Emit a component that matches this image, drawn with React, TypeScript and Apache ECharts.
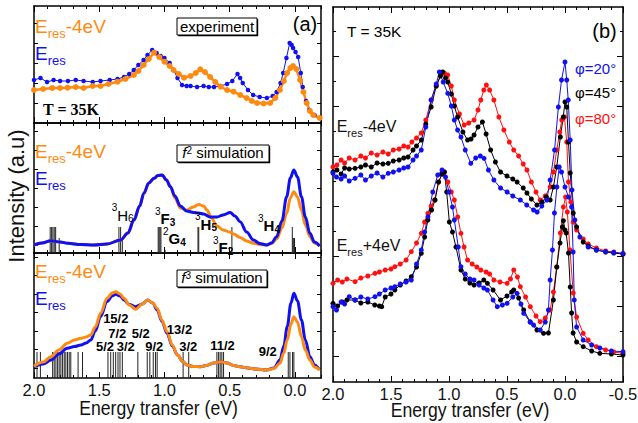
import React, { useEffect, useRef } from 'react';
import * as echarts from 'echarts';

// ---------------- data (energy transfer in eV, intensity in arbitrary units) ----------------
const expOrange = [[2.0,33],[1.93,34],[1.86,35],[1.8,35],[1.743,35.3],[1.68,36],[1.62,35],[1.55,37],[1.49,37],[1.43,39],[1.36,41.3],[1.3,44],[1.235,48],[1.2,52],[1.16,58],[1.12,64],[1.08,70.3],[1.04,66],[1.0,61.3],[0.96,57],[0.93,53],[0.89,49],[0.85,45.3],[0.8,47],[0.76,50],[0.725,53.7],[0.69,51],[0.65,46],[0.61,41],[0.57,36.3],[0.52,33],[0.47,31.3],[0.42,28],[0.37,25],[0.33,22],[0.29,20],[0.24,19.5],[0.19,20],[0.15,25],[0.115,33],[0.085,42],[0.06,50],[0.035,55],[0.015,57],[-0.01,54],[-0.04,43],[-0.065,31],[-0.09,20],[-0.115,12],[-0.14,8],[-0.19,5]];
const expBlue = [[2.0,43],[1.95,45],[1.9,41],[1.85,43],[1.8,42],[1.74,42],[1.68,43],[1.62,42],[1.55,41],[1.49,42],[1.42,43],[1.36,44],[1.31,46],[1.27,49],[1.235,53],[1.2,58],[1.16,63],[1.13,68],[1.094,73],[1.06,70],[1.03,67],[1.0,65],[0.96,60],[0.93,53],[0.9,45],[0.865,38],[0.83,37],[0.8,37],[0.75,36],[0.7,37],[0.66,36],[0.62,36],[0.57,37],[0.52,39],[0.48,42],[0.44,49],[0.42,45],[0.4,40],[0.36,33],[0.32,28],[0.27,26],[0.215,25],[0.17,27],[0.14,31],[0.11,40],[0.09,50],[0.065,65],[0.04,80],[0.025,78],[0.014,75],[-0.005,71],[-0.025,66],[-0.045,50],[-0.06,36],[-0.085,22],[-0.11,13],[-0.15,8],[-0.19,5]];

const f2Blue = [[2.0,8],[1.94,10],[1.87,12.3],[1.8,11],[1.74,9.7],[1.64,8.5],[1.54,8],[1.44,9],[1.336,13],[1.28,20],[1.234,33],[1.19,47],[1.158,59.7],[1.12,70],[1.08,74.7],[1.05,77.5],[1.018,78],[0.985,73],[0.954,66.3],[0.92,57],[0.878,47],[0.83,42],[0.776,40.5],[0.74,40],[0.7,39],[0.65,36],[0.598,36],[0.55,38],[0.496,40.5],[0.46,37],[0.42,31.3],[0.37,21],[0.318,13],[0.27,9.5],[0.216,8],[0.18,10],[0.14,16.3],[0.1,32],[0.063,56.3],[0.035,75],[0.008,83],[-0.02,76],[-0.05,56.3],[-0.08,36],[-0.115,19.7],[-0.15,11],[-0.19,7]];
const f2Orange = [[2.0,8],[1.94,10],[1.87,12.3],[1.8,11],[1.74,9.7],[1.64,8.5],[1.54,8],[1.44,9],[1.336,13],[1.28,20],[1.234,33],[1.19,47],[1.158,59.7],[1.12,70],[1.08,74.7],[1.05,77.5],[1.018,78],[0.985,73],[0.954,66.3],[0.92,55],[0.878,45],[0.827,43],[0.78,46],[0.738,48.5],[0.7,47],[0.674,43],[0.64,35],[0.598,27],[0.55,23],[0.5,21],[0.47,19],[0.42,15.5],[0.37,12],[0.318,9.7],[0.27,8.5],[0.216,8],[0.18,9.5],[0.14,14],[0.1,25],[0.063,39.7],[0.035,55],[0.008,61.3],[-0.02,56],[-0.05,43],[-0.08,28],[-0.115,16.3],[-0.15,10],[-0.19,7]];
const f2Sticks = [[1.876,26],[1.865,26],[1.855,26],[1.845,26],[1.834,26],[1.807,15],[1.349,26],[1.336,26],[1.323,15],[1.048,26],[1.041,26],[1.034,26],[1.027,26],[0.995,3],[0.743,26],[0.737,26],[0.483,26],[0.02,26],[0.014,15],[0.008,15],[0.003,15]];

const f3Blue = [[2.0,11.3],[1.93,14],[1.87,18],[1.81,24],[1.745,29.7],[1.69,31.5],[1.64,33],[1.6,35],[1.565,38],[1.53,47],[1.49,61.3],[1.44,76.3],[1.4,82],[1.374,83.7],[1.34,82],[1.31,78],[1.27,73.5],[1.22,71.3],[1.17,74],[1.13,78],[1.09,75],[1.056,68],[1.02,57],[0.98,44.7],[0.94,32],[0.9,23],[0.86,16.5],[0.827,13],[0.78,11.5],[0.725,11.3],[0.68,12.5],[0.62,15],[0.57,16.3],[0.52,15],[0.47,12.5],[0.42,11.3],[0.36,10],[0.3,9],[0.216,8],[0.16,10],[0.115,18],[0.085,32],[0.059,51.3],[0.03,75],[0.008,84.7],[-0.02,77],[-0.05,58],[-0.08,38],[-0.115,21.3],[-0.15,13],[-0.19,8]];
const f3Orange = [[2.0,11.7],[1.93,16],[1.87,21.3],[1.81,28],[1.745,34.7],[1.69,38],[1.64,39.7],[1.6,41],[1.565,43],[1.53,51],[1.49,64.7],[1.44,79.7],[1.4,85],[1.374,86.3],[1.34,84],[1.31,79.7],[1.27,73],[1.22,68.7],[1.17,74],[1.13,78],[1.09,75],[1.056,69.7],[1.02,58],[0.98,46.3],[0.94,33],[0.9,23],[0.86,16.5],[0.827,13],[0.78,11.5],[0.725,11.3],[0.68,12.5],[0.62,15],[0.57,16.3],[0.52,15],[0.47,12.5],[0.42,11.3],[0.36,10],[0.3,9],[0.216,8],[0.16,9.5],[0.115,14.7],[0.085,25],[0.059,38],[0.03,54],[0.008,61.3],[-0.02,56],[-0.05,41.3],[-0.08,28],[-0.115,18],[-0.15,11],[-0.19,8]];
const f3Sticks = [[1.977,26],[1.951,26],[1.857,26],[1.845,26],[1.832,26],[1.819,26],[1.807,26],[1.794,26],[1.781,26],[1.768,26],[1.756,26],[1.743,26],[1.73,26],[1.718,26],[1.662,26],[1.628,26],[1.433,26],[1.412,26],[1.392,26],[1.374,26],[1.356,26],[1.341,26],[1.323,26],[1.204,26],[1.132,26],[1.112,26],[1.086,26],[1.069,26],[1.056,26],[0.857,26],[0.814,26],[0.598,26],[0.585,26],[0.573,26],[0.56,26],[0.547,26],[0.051,26],[0.038,26],[0.018,26],[0.008,26]];

const upRed = [[2.0,215],[1.966,217],[1.93,222],[1.9,219],[1.86,224],[1.81,222],[1.76,226],[1.72,224],[1.67,229],[1.62,227],[1.57,230],[1.524,228],[1.48,232],[1.43,233],[1.39,236],[1.353,235],[1.32,240],[1.28,244],[1.239,249],[1.2,262],[1.154,282],[1.11,296],[1.068,307],[1.04,309],[1.011,307],[0.98,296],[0.954,282],[0.91,268],[0.869,257],[0.83,259],[0.784,262],[0.75,272],[0.726,282],[0.7,292],[0.678,297],[0.65,292],[0.613,282],[0.57,265],[0.527,252],[0.48,240],[0.442,232],[0.4,226],[0.36,218],[0.328,212],[0.29,200],[0.25,190],[0.214,182],[0.17,186],[0.128,195],[0.1,210],[0.071,232],[0.045,250],[0.028,262],[0.005,265],[-0.015,240],[-0.03,200],[-0.05,180],[-0.071,160],[-0.1,152],[-0.157,143],[-0.2,138],[-0.271,134],[-0.35,131],[-0.42,130],[-0.5,128]];
const upBlack = [[2.0,210],[1.966,212],[1.93,208],[1.9,214],[1.86,213],[1.81,213.7],[1.76,215],[1.72,217],[1.67,215],[1.62,219],[1.57,218],[1.524,218.7],[1.48,221],[1.43,222],[1.39,224],[1.353,225],[1.31,232],[1.28,236],[1.239,242],[1.2,258],[1.154,275],[1.11,296],[1.075,306],[1.054,310],[1.03,304],[1.011,300],[0.98,288],[0.954,276],[0.926,265],[0.88,250],[0.84,242],[0.81,243],[0.784,247],[0.75,255],[0.712,260],[0.68,248],[0.641,232],[0.6,220],[0.556,210],[0.5,206],[0.45,203],[0.413,200],[0.36,194],[0.328,189],[0.29,183],[0.242,177],[0.2,180],[0.16,185],[0.128,182],[0.1,195],[0.071,215],[0.04,245],[0.015,265],[0.0,280],[-0.015,275],[-0.03,240],[-0.045,209],[-0.071,169],[-0.1,155],[-0.157,140],[-0.2,136],[-0.271,132],[-0.35,130],[-0.42,129],[-0.5,128]];
const upBlue = [[2.0,208.7],[1.97,205],[1.93,203],[1.9,206],[1.86,201],[1.81,203.7],[1.76,207],[1.72,202],[1.67,206],[1.62,209],[1.57,205],[1.524,208.7],[1.48,210],[1.43,212],[1.39,214],[1.353,215],[1.31,222],[1.28,226],[1.239,232],[1.2,255],[1.154,282],[1.11,298],[1.083,310],[1.05,300],[1.011,288.7],[0.98,276],[0.954,262],[0.926,252],[0.897,245],[0.86,232],[0.812,218.7],[0.77,224],[0.73,226],[0.698,223.7],[0.66,212],[0.613,202],[0.556,194],[0.499,190],[0.45,186],[0.385,182],[0.33,177],[0.271,172],[0.24,170],[0.2,176],[0.157,182],[0.128,202],[0.09,232],[0.057,275],[0.03,302],[0.0,320],[-0.015,302],[-0.028,282],[-0.045,242],[-0.06,192],[-0.085,162],[-0.128,145],[-0.2,135],[-0.271,132],[-0.35,130.3],[-0.42,129.5],[-0.5,128.7]];

const lowRed = [[2.0,98.7],[1.96,102],[1.92,100],[1.88,103],[1.81,100.3],[1.76,104],[1.7,106],[1.638,108.7],[1.6,110],[1.55,112],[1.5,113],[1.467,115.3],[1.42,118],[1.37,122],[1.325,130.3],[1.28,139],[1.239,148.7],[1.21,160],[1.182,168.7],[1.154,176],[1.125,182],[1.09,200],[1.06,208],[1.04,210],[1.01,200],[0.98,190],[0.954,182],[0.925,165],[0.897,148.7],[0.87,135],[0.84,122],[0.8,118],[0.76,115],[0.726,112],[0.68,110],[0.65,108],[0.613,102],[0.56,100],[0.499,98.7],[0.47,103],[0.442,112],[0.41,105],[0.385,95.3],[0.34,85],[0.299,75.3],[0.25,66],[0.214,60.3],[0.17,64],[0.128,72],[0.1,90],[0.071,115],[0.04,149],[0.014,175],[-0.005,185],[-0.02,170],[-0.043,132],[-0.071,89],[-0.1,65],[-0.157,48.7],[-0.2,42],[-0.271,35.3],[-0.35,32],[-0.42,30],[-0.5,28.7]];
const lowBlack = [[2.0,78.7],[1.96,76],[1.92,80],[1.88,82],[1.81,82],[1.76,79],[1.7,80],[1.64,77],[1.6,76],[1.58,75.3],[1.55,85],[1.5,88],[1.467,92],[1.42,97],[1.37,101],[1.325,105.3],[1.28,115],[1.239,128.7],[1.21,145],[1.182,162],[1.15,172],[1.12,182],[1.09,200],[1.06,208],[1.04,210],[1.02,190],[0.997,160],[0.97,150],[0.94,135],[0.897,112],[0.86,103],[0.82,99],[0.784,97],[0.74,99],[0.7,102],[0.669,98.7],[0.62,92],[0.556,82],[0.5,86],[0.46,90],[0.442,92],[0.4,84],[0.356,72],[0.3,60],[0.242,52],[0.185,48.7],[0.143,49],[0.1,82],[0.071,115],[0.043,139],[0.023,155],[0.014,161.3],[0.0,152],[-0.01,149],[-0.03,129],[-0.045,95],[-0.057,69],[-0.07,49],[-0.1,40],[-0.157,35.3],[-0.23,31],[-0.3,28.7],[-0.4,28],[-0.5,27]];
const lowBlue = [[2.0,75.3],[1.97,72],[1.93,80],[1.9,78],[1.86,85.3],[1.81,82],[1.76,85],[1.7,83],[1.638,85.3],[1.6,88],[1.55,92],[1.5,94],[1.467,95.3],[1.42,98],[1.37,100],[1.325,102],[1.28,118],[1.239,132],[1.21,150],[1.182,165.3],[1.14,190],[1.097,207],[1.06,212],[1.03,205],[1.0,190],[0.97,175],[0.954,162],[0.92,135],[0.897,115.3],[0.86,108],[0.82,103],[0.784,102],[0.74,97],[0.7,94],[0.669,92],[0.62,82],[0.584,75.3],[0.54,77],[0.499,78.7],[0.45,85],[0.413,88.7],[0.38,78],[0.356,68.7],[0.3,60],[0.271,57],[0.214,52],[0.17,60],[0.143,72],[0.128,102],[0.108,132],[0.091,169],[0.07,195],[0.05,215],[0.03,210],[0.0,195],[-0.03,185],[-0.057,175],[-0.07,130],[-0.08,82],[-0.1,55],[-0.157,42],[-0.23,37],[-0.3,34],[-0.4,31],[-0.5,30.3]];

const leftTickLabels = [2, 1.5, 1, 0.5, 0];
const rightTickLabels = [2, 1.5, 1, 0.5, 0, -0.5];
const panel1YTicks = [20, 40, 60, 80, 100];
const panel2YTicks = [8, 27, 46, 65, 84, 103, 122];
const panel3YTicks = [10, 28.5, 47, 65.5, 84, 102.5, 121];
const rightYMajor = [26, 76, 126, 176, 226, 276, 326];
const rightYMinor = [51, 101, 151, 201, 251, 301, 351];

// ---------------- styling ----------------
const SANS = "'Liberation Sans', Arial, Helvetica, sans-serif";
const SERIF = "'Liberation Serif', 'Times New Roman', serif";
const BLUE = '#1010F0';
const ORANGE = '#FF8A10';
const RED = '#FF1010';
const BLACK = '#000000';

const LEFT = { left: 34, width: 287 };
const GRIDS = [
  { left: LEFT.left, top: 6, width: LEFT.width, height: 117 },
  { left: LEFT.left, top: 123, width: LEFT.width, height: 130 },
  { left: LEFT.left, top: 253, width: LEFT.width, height: 125 },
  { left: 333, top: 7, width: 290, height: 375 },
];

function buildOption() {
  const xAxis: any[] = [];
  const yAxis: any[] = [];
  const xIdx: number[] = [];
  const yIdx: number[] = [];

  const mkX = (g: number, pos: string, min: number, max: number, majors: number[], labels: boolean) => {
    const base: any = {
      type: 'value', gridIndex: g, position: pos, min, max, inverse: true, interval: 0.1,
      splitLine: { show: false },
    };
    xAxis.push({
      ...base,
      axisLine: { show: true, onZero: false, lineStyle: { color: BLACK, width: 1.5 } },
      axisTick: { show: true, inside: true, length: 3, lineStyle: { color: BLACK, width: 1 } },
      axisLabel: labels
        ? { show: true, customValues: majors, margin: 3, fontSize: 16.5, fontFamily: SANS, color: '#111',
            formatter: (v: number) => (Math.abs(v) < 1e-9 ? 0 : v).toFixed(1) }
        : { show: false },
    });
    const i = xAxis.length - 1;
    xAxis.push({
      ...base,
      axisLine: { show: false, onZero: false },
      axisTick: { show: true, inside: true, length: 6, customValues: majors, lineStyle: { color: BLACK, width: 1 } },
      axisLabel: { show: false },
    });
    return i;
  };

  const mkY = (g: number, pos: string, max: number, ticks: number[], len: number, line: boolean) => {
    yAxis.push({
      type: 'value', gridIndex: g, position: pos, min: 0, max,
      axisLine: { show: line, onZero: false, lineStyle: { color: BLACK, width: 1.5 } },
      axisTick: { show: true, inside: true, length: len, customValues: ticks, lineStyle: { color: BLACK, width: 1 } },
      axisLabel: { show: false },
      splitLine: { show: false },
    });
    return yAxis.length - 1;
  };

  const yTicks = [panel1YTicks, panel2YTicks, panel3YTicks];
  for (let g = 0; g < 3; g++) {
    xIdx.push(mkX(g, 'bottom', -0.2, 2.0, leftTickLabels, g === 2));
    mkX(g, 'top', -0.2, 2.0, leftTickLabels, false);
    yIdx.push(mkY(g, 'left', GRIDS[g].height, yTicks[g], 4, true));
    mkY(g, 'right', GRIDS[g].height, yTicks[g], 4, true);
  }
  xIdx.push(mkX(3, 'bottom', -0.5, 2.0, rightTickLabels, true));
  mkX(3, 'top', -0.5, 2.0, rightTickLabels, false);
  yIdx.push(mkY(3, 'left', 375, rightYMajor, 6, true));
  mkY(3, 'left', 375, rightYMinor, 3, false);
  mkY(3, 'right', 375, rightYMajor, 6, true);
  mkY(3, 'right', 375, rightYMinor, 3, false);

  const line = (g: number, data: number[][], color: string, width: number, opts: any = {}) => ({
    type: 'line', xAxisIndex: xIdx[g], yAxisIndex: yIdx[g], data, silent: true,
    symbol: 'none', lineStyle: { color, width }, itemStyle: { color }, z: 3, ...opts,
  });
  const dots = (g: number, data: number[][], color: string, size: number, width: number) =>
    line(g, data, color, width, { symbol: 'circle', symbolSize: size, showSymbol: true });
  const sticks = (g: number, data: number[][]) => ({
    type: 'custom', xAxisIndex: xIdx[g], yAxisIndex: yIdx[g], data, silent: true, z: 1,
    encode: { x: 0, y: 1 },
    renderItem: (_p: any, api: any) => {
      const a = api.coord([api.value(0), 0]);
      const b = api.coord([api.value(0), api.value(1)]);
      return { type: 'line', shape: { x1: a[0], y1: a[1], x2: b[0], y2: b[1] }, style: { stroke: '#222', lineWidth: 1 } };
    },
  });

  const series = [
    dots(0, expBlue, BLUE, 4.5, 1),
    dots(0, expOrange, ORANGE, 6, 2.5),
    sticks(1, f2Sticks),
    line(1, f2Orange, ORANGE, 3, { smooth: 0.35, smoothMonotone: 'x' }),
    line(1, f2Blue, BLUE, 3, { smooth: 0.35, smoothMonotone: 'x' }),
    sticks(2, f3Sticks),
    line(2, f3Blue, BLUE, 3, { smooth: 0.35, smoothMonotone: 'x' }),
    line(2, f3Orange, ORANGE, 3, { smooth: 0.35, smoothMonotone: 'x' }),
    dots(3, upRed, RED, 5, 1),
    dots(3, upBlack, BLACK, 5, 1),
    dots(3, upBlue, BLUE, 5, 1),
    dots(3, lowRed, RED, 5, 1),
    dots(3, lowBlack, BLACK, 5, 1),
    dots(3, lowBlue, BLUE, 5, 1),
  ];

  // ---------- annotations ----------
  const eres = (x: number, y: number, suffix: string, color: string, size: number, sub: number) => ({
    type: 'text', x, y, z: 100,
    style: {
      text: suffix ? `{m|E}{s|res}{m|${suffix}}` : '{m|E}{s|res}',
      align: 'left', verticalAlign: 'top',
      rich: {
        m: { fontSize: size, lineHeight: size + 2, verticalAlign: 'top', fontFamily: SANS, fill: color },
        s: { fontSize: sub, lineHeight: sub, padding: [size * 0.55, 0, 0, 0], verticalAlign: 'top', fontFamily: SANS, fill: color },
      },
    },
  });
  const level = (x: number, y: number, sup: string, main: string, sub: string, bold: boolean) => ({
    type: 'text', x, y, z: 100,
    style: {
      text: `{p|${sup}}{m|${main}}{b|${sub}}`,
      align: 'left', verticalAlign: 'top',
      rich: {
        p: { fontSize: 10, lineHeight: 10, verticalAlign: 'top', fontFamily: SANS, fill: '#000' },
        m: { fontSize: 15, lineHeight: 14, padding: [5, 0, 0, 0], verticalAlign: 'top', fontFamily: SANS, fontWeight: bold ? 'bold' : 'normal', fill: '#000' },
        b: { fontSize: 10, lineHeight: 8, padding: [11, 0, 0, 0], verticalAlign: 'top', fontFamily: SANS, fontWeight: bold ? 'bold' : 'normal', fill: '#000' },
      },
    },
  });
  const jl = (x: number, y: number, t: string) => ({
    type: 'text', x, y, z: 100,
    style: { text: t, align: 'center', verticalAlign: 'middle', fontSize: 13, lineHeight: 10, fontWeight: 'bold', fontFamily: SANS, fill: '#000' },
  });
  const box = (x: number, y: number, w: number, h: number) => ([
    { type: 'rect', z: 99, shape: { x: x + 1.2, y: y + 1.2, width: w, height: h }, style: { fill: '#000' } },
    { type: 'rect', z: 99, shape: { x, y, width: w, height: h }, style: { fill: '#fff', stroke: '#000', lineWidth: 1 } },
  ]);
  const simText = (cx: number, y: number, n: string) => ({
    type: 'text', x: cx, y, z: 100,
    style: {
      text: `{f|f}{p|${n}}{m| simulation}`, align: 'center', verticalAlign: 'top',
      rich: {
        f: { fontSize: 15, lineHeight: 17, verticalAlign: 'top', fontStyle: 'italic', fontFamily: SANS, fill: '#000' },
        p: { fontSize: 10, lineHeight: 10, verticalAlign: 'top', fontFamily: SANS, fill: '#000' },
        m: { fontSize: 15, lineHeight: 17, verticalAlign: 'top', fontFamily: SANS, fill: '#000' },
      },
    },
  });
  const txt = (x: number, y: number, t: string, o: any = {}, extra: any = {}) => ({
    type: 'text', x, y, z: 100, ...extra,
    style: { text: t, align: 'left', verticalAlign: 'middle', fontSize: 15, fontFamily: SANS, fill: '#000', ...o },
  });

  const graphic: any[] = [
    // axis titles (condensed like the original)
    txt(158.5, 407.5, 'Energy transfer (eV)', { align: 'center', fontSize: 21, fill: '#111' }, { scaleX: 0.84 }),
    txt(470, 409, 'Energy transfer (eV)', { align: 'center', fontSize: 21, fill: '#111' }, { scaleX: 0.84 }),
    { type: 'text', x: 16, y: 196, rotation: Math.PI / 2, z: 100,
      style: { text: 'Intensity (a.u)', align: 'center', verticalAlign: 'middle', fontSize: 22, fontFamily: SANS, fill: '#111' } },
    // panel (a)
    eres(35, 17, '-4eV', ORANGE, 19, 13),
    eres(35, 43.5, '', BLUE, 19, 13),
    txt(43, 109.5, 'T = 35K', { fontSize: 16, fontWeight: 'bold', fontFamily: SERIF }),
    ...box(177, 18, 80, 17),
    txt(217, 26.5, 'experiment', { align: 'center' }),
    txt(305, 23.5, '(a)', { align: 'center', fontSize: 20 }),
    eres(35, 141.5, '-4eV', ORANGE, 19, 13),
    eres(35, 168.5, '', BLUE, 19, 13),
    ...box(177, 145, 92, 17),
    simText(223, 145, '2'),
    level(111.7, 202.5, '3', 'H', '6', false),
    level(155, 206, '3', 'F', '3', true),
    level(163, 226, '2', 'G', '4', true),
    level(195, 211.5, '3', 'H', '5', true),
    level(213, 235, '3', 'F', '2', true),
    level(258, 213, '3', 'H', '4', true),
    eres(35, 261.5, '-4eV', ORANGE, 19, 13),
    eres(35, 288.5, '', BLUE, 19, 13),
    ...box(177, 270, 90, 17),
    simText(222, 270, '3'),
    jl(115.8, 318, '15/2'),
    jl(117.2, 333, '7/2'),
    jl(140.8, 333, '5/2'),
    jl(105, 346, '5/2'),
    jl(125.8, 346, '3/2'),
    jl(154.2, 346, '9/2'),
    jl(179.5, 329.7, '13/2'),
    jl(188.2, 346.7, '3/2'),
    jl(222.5, 345.3, '11/2'),
    jl(267.8, 351.3, '9/2'),
    // panel (b)
    txt(347, 31, 'T = 35K', { fontSize: 15.5 }),
    txt(604.5, 30.5, '(b)', { align: 'center', fontSize: 20 }),
    txt(575, 68.3, 'φ=20°', { fill: BLUE }),
    txt(575, 92.3, 'φ=45°', { fill: BLACK }),
    txt(575, 118.3, 'φ=80°', { fill: RED }),
    eres(336.7, 118.5, '-4eV', '#111', 16, 11),
    eres(336.7, 237.7, '+4eV', '#111', 16, 11),
  ];

  return {
    animation: false,
    backgroundColor: '#ffffff',
    grid: GRIDS.map((g) => ({ ...g, containLabel: false, outerBoundsMode: 'none' })),
    xAxis, yAxis, series, graphic,
  };
}

export default function App() {
  const ref = useRef<HTMLDivElement>(null);
  useEffect(() => {
    const chart = echarts.init(ref.current as HTMLDivElement, null, { renderer: 'svg' });
    chart.setOption(buildOption() as any);
    return () => chart.dispose();
  }, []);
  return <div ref={ref} style={{ position: 'fixed', left: 0, top: 0, width: 638, height: 423, background: '#fff' }} />;
}
